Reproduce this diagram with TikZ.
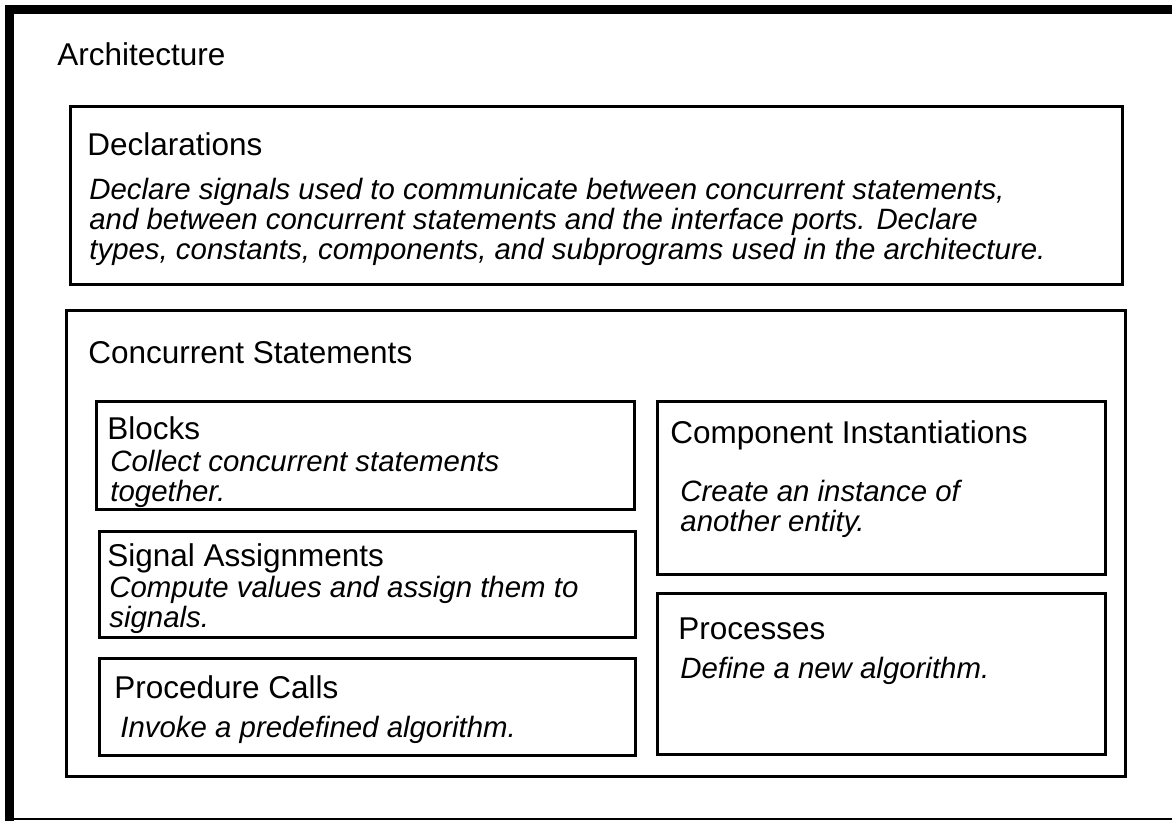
\documentclass[tikz,border=0pt]{standalone}
\usepackage{fontspec}
\setmainfont{Liberation Sans}
\usetikzlibrary{positioning}

\newcommand{\titlesize}{\fontsize{15.75}{18}\selectfont}
\newcommand{\notesize}{\fontsize{14.7}{15}\selectfont\itshape}

\tikzset{
  box/.style={draw, line width=1.6pt, inner sep=0pt, anchor=north west},
  heading/.style={font=\titlesize, anchor=base west, inner sep=0pt},
  note/.style={font=\notesize, anchor=base west, align=left, inner sep=0pt},
}

\begin{document}
\begin{tikzpicture}[x=0.5pt,y=-0.5pt]
	\useasboundingbox (0,0) rectangle (1172,821);
	% outer frame
	\draw[line width=4.75pt] (9.5,821) -- (9.5,9.5) -- (1172,9.5);
	\draw[line width=1pt] (9.5,819) -- (1172,819);
	\node[heading] (arch) at (57,65) {Architecture};

	% declarations
	\node[box, minimum width=526pt, minimum height=89pt] (decl) at (69,105) {};
	\node[heading] (declT) at ([shift={(18,50)}]decl.north west) {Declarations};
	\node[note] (declD) at ([shift={(20,154)}]decl.north west)
		{Declare signals used to communicate between concurrent statements,\\
		 and between concurrent statements and the interface ports. Declare\\
		 types, constants, components, and subprograms used in the architecture.};

	% concurrent statements
	\node[box, minimum width=529.5pt, minimum height=233pt] (conc) at (65,309) {};
	\node[heading] (concT) at ([shift={(23,54)}]conc.north west) {Concurrent Statements};

	\node[box, minimum width=269pt, minimum height=54pt] (blocks) at (95,400) {};
	\node[heading] (blocksT) at ([shift={(12,39)}]blocks.north west) {Blocks};
	\node[note] (blocksD) at ([shift={(15,101)}]blocks.north west)
		{Collect concurrent statements\\together.};

	\node[box, minimum width=268pt, minimum height=53pt] (signal) at (98,530) {};
	\node[heading] (signalT) at ([shift={(9,36)}]signal.north west) {Signal Assignments};
	\node[note] (signalD) at ([shift={(11,97)}]signal.north west)
		{Compute values and assign them to\\signals.};

	\node[box, minimum width=268pt, minimum height=48.5pt] (proc) at (98,657) {};
	\node[heading] (procT) at ([shift={(16,41)}]proc.north west) {Procedure Calls};
	\node[note] (procD) at ([shift={(22,80)}]proc.north west)
		{Invoke a predefined algorithm.};

	\node[box, minimum width=224pt, minimum height=86.5pt] (comp) at (656,400) {};
	\node[heading] (compT) at ([shift={(14,43)}]comp.north west) {Component Instantiations};
	\node[note] (compD) at ([shift={(24,131)}]comp.north west)
		{Create an instance of\\another entity.};

	\node[box, minimum width=224pt, minimum height=80.5pt] (process) at (656,592) {};
	\node[heading] (processT) at ([shift={(22,47)}]process.north west) {Processes};
	\node[note] (processD) at ([shift={(24,86)}]process.north west)
		{Define a new algorithm.};
\end{tikzpicture}
\end{document}
